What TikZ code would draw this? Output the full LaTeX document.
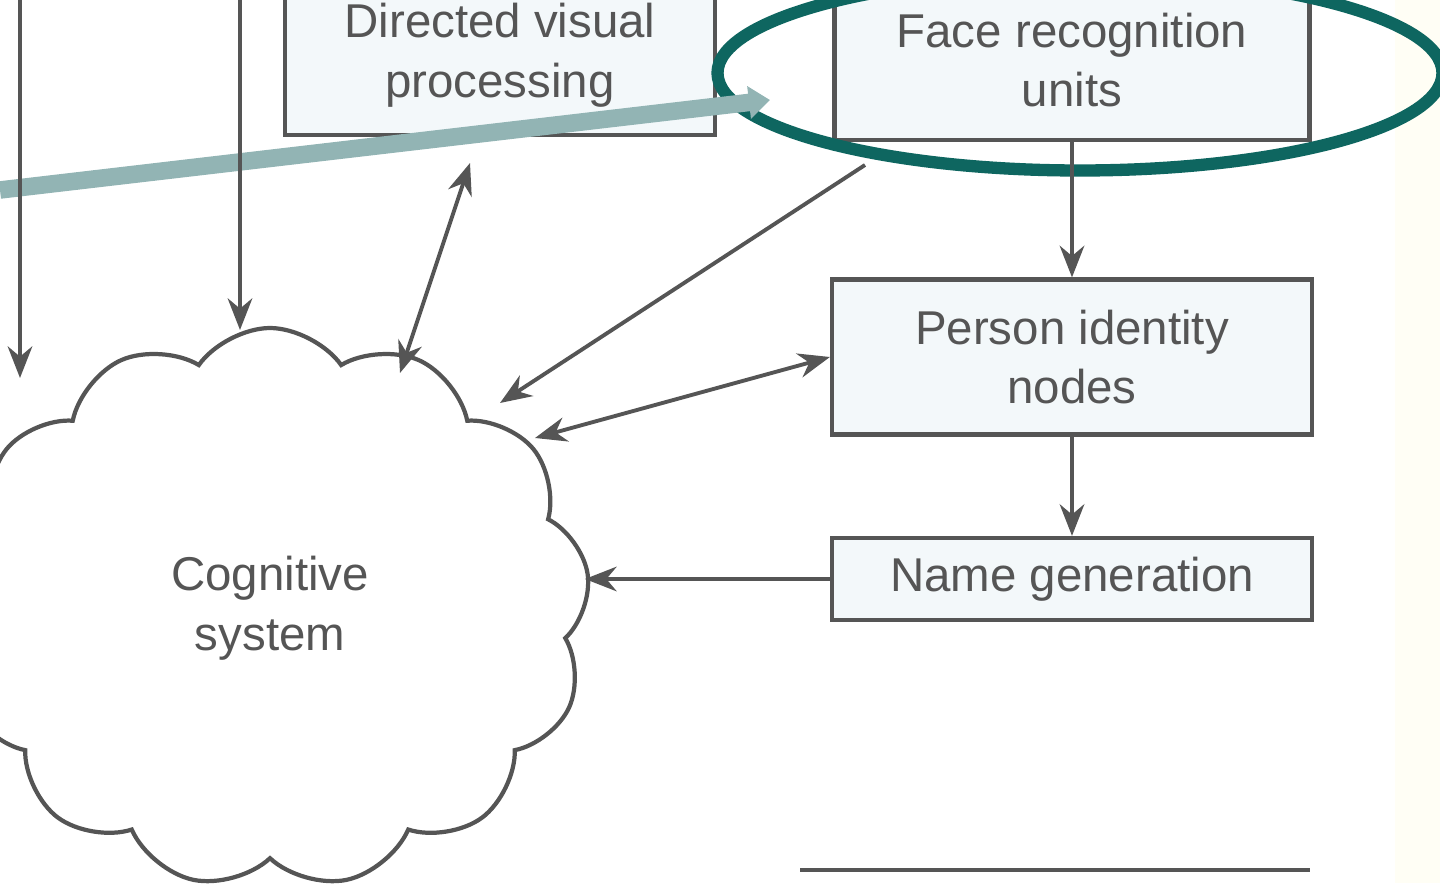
\documentclass[tikz,border=0pt]{standalone}
\usepackage{fontspec}
\setmainfont{Liberation Sans}
\usetikzlibrary{arrows.meta,positioning,shapes.symbols,shapes.geometric}
\definecolor{lineg}{HTML}{555555}
\definecolor{boxfill}{HTML}{F3F8FA}
\definecolor{ringteal}{HTML}{0E6660}
\definecolor{pointer}{HTML}{92B4B4}
\tikzset{
  stage/.style={draw=lineg, fill=boxfill, line width=1.2pt, text=lineg, align=center,
    font=\fontsize{13.5}{17}\selectfont},
  arrow/.style={draw=lineg, line width=1.1pt, -{Stealth[length=9pt,width=7pt]}},
  both/.style={arrow, {Stealth[length=9pt,width=7pt]}-{Stealth[length=9pt,width=7pt]}}
}
\begin{document}
\begin{tikzpicture}
\useasboundingbox (0,0) rectangle (14.4,8.83);
\clip (0,0) rectangle (14.4,8.83);
\fill [yellow!4] (13.95,0) rectangle (14.4,8.83);
% boxes
\node (dvp) [stage, minimum width=4.3cm, minimum height=1.6cm] at (5.0,8.28) {Directed visual\\processing};
\node (fru) [stage, minimum width=4.75cm, minimum height=1.6cm] at (10.72,8.23) {Face recognition\\units};
\node (pin) [stage, minimum width=4.8cm, minimum height=1.55cm] at (10.72,5.26) {Person identity\\nodes};
\node (ng) [stage, minimum width=4.8cm, minimum height=0.82cm] at (10.72,3.04) {Name generation};
\node (cog) [cloud, cloud puffs=13, cloud puff arc=110, draw=lineg, line width=1.2pt, text=lineg,
  minimum width=6.4cm, minimum height=5.6cm, align=center,
  font=\fontsize{13.5}{17}\selectfont] at (2.7,2.75) {Cognitive\\system};
% ring and pointer
\node (ring) [draw=ringteal, line width=3.5pt, ellipse, minimum width=7.25cm, minimum height=1.95cm] at (10.8,8.1) {};
\coordinate (tail) at (0,6.93);
\coordinate (tip) at (7.7,7.83);
\draw [pointer, line width=5pt, -{Triangle[length=6pt,width=9pt]}] (tail) -- (tip);
% connectors
\coordinate (l1) at (0.2,8.83);
\coordinate (l1e) at (0.2,5.05);
\coordinate (l2) at (2.4,8.83);
\coordinate (l2e) at (2.4,5.53);
\draw [arrow] (l1) -- (l1e);
\draw [arrow] (l2) -- (l2e);
\draw [both] (4.7,7.2) -- (4.0,5.1);
\draw [arrow] (8.65,7.18) -- (5.0,4.8);
\draw [both] (pin.west) -- (5.35,4.45);
\draw [arrow] (fru.south) -- (pin.north);
\draw [arrow] (pin.south) -- (ng.north);
\draw [arrow] (ng.west) -- (5.85,3.04);
\coordinate (c1) at (8.0,0.13);
\coordinate (c2) at (13.1,0.13);
\draw [lineg, line width=1pt] (c1) -- (c2);
\end{tikzpicture}
\end{document}
